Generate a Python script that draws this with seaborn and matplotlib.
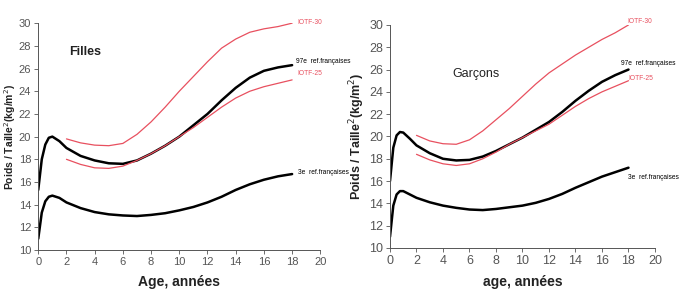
import matplotlib
matplotlib.use("Agg")
import matplotlib.pyplot as plt
import seaborn as sns
import pandas as pd

# ages for the reference curves (0-18) and the IOTF curves (2-18)
age_ref = [0, 0.25, 0.5, 0.75, 1, 1.5, 2, 3, 4, 5, 6, 7, 8, 9, 10, 11, 12, 13, 14, 15, 16, 17, 18]
age_iotf = [2, 3, 4, 5, 6, 7, 8, 9, 10, 11, 12, 13, 14, 15, 16, 17, 18]

# Filles
f_p97 = [15.3, 18.0, 19.3, 19.9, 20.0, 19.6, 19.0, 18.3, 17.9, 17.65, 17.6, 17.9, 18.5, 19.2,
         20.0, 21.0, 22.0, 23.2, 24.3, 25.2, 25.8, 26.1, 26.3]
f_p3 = [11.0, 13.3, 14.3, 14.7, 14.8, 14.6, 14.2, 13.7, 13.35, 13.15, 13.05, 13.0, 13.1, 13.25,
        13.5, 13.8, 14.2, 14.7, 15.3, 15.8, 16.2, 16.5, 16.7]
f_iotf30 = [19.8, 19.45, 19.25, 19.2, 19.4, 20.2, 21.3, 22.6, 24.0, 25.3, 26.6, 27.8, 28.6,
            29.2, 29.5, 29.7, 30.0]
f_iotf25 = [18.0, 17.55, 17.25, 17.2, 17.4, 17.9, 18.5, 19.2, 20.0, 20.8, 21.7, 22.6, 23.4,
            24.0, 24.4, 24.7, 25.0]

# Garçons
g_p97 = [16.0, 19.0, 20.1, 20.4, 20.35, 19.8, 19.2, 18.5, 18.0, 17.85, 17.9, 18.2, 18.7, 19.3,
         19.9, 20.6, 21.3, 22.2, 23.2, 24.1, 24.9, 25.5, 26.0]
g_p3 = [11.0, 13.8, 14.8, 15.1, 15.1, 14.8, 14.5, 14.1, 13.8, 13.6, 13.45, 13.4, 13.5, 13.65,
        13.8, 14.05, 14.4, 14.85, 15.4, 15.9, 16.4, 16.8, 17.2]
g_iotf30 = [20.1, 19.6, 19.35, 19.3, 19.7, 20.5, 21.5, 22.5, 23.6, 24.7, 25.7, 26.5, 27.3,
            28.0, 28.7, 29.3, 30.0]
g_iotf25 = [18.4, 17.9, 17.55, 17.4, 17.55, 18.0, 18.6, 19.3, 19.9, 20.5, 21.1, 21.9, 22.7,
            23.4, 24.0, 24.5, 25.0]

x_ticks = list(range(0, 21, 2))
y_ticks = list(range(10, 31, 2))

RED = '#e8505f'
GRAY = '#555555'

sns.set_style('ticks')
plt.rcParams['font.family'] = ['Liberation Sans', 'DejaVu Sans']

fig = plt.figure(figsize=(6.83, 2.97), dpi=100)
ax_f = fig.add_axes([0.056, 0.158, 0.413, 0.764])
ax_g = fig.add_axes([0.571, 0.165, 0.388, 0.751])


def draw_panel(ax, p97, p3, iotf30, iotf25, title, title_xy, title_bold, xlabel,
               ylabel_x, ylabel_size, tick_size, labels):
    sns.lineplot(x=age_ref, y=p97, ax=ax, color='black', lw=1.8)
    sns.lineplot(x=age_ref, y=p3, ax=ax, color='black', lw=1.8)
    sns.lineplot(x=age_iotf, y=iotf30, ax=ax, color=RED, lw=0.9)
    sns.lineplot(x=age_iotf, y=iotf25, ax=ax, color=RED, lw=0.9)

    ax.set_xlim(0, 20)
    ax.set_ylim(10, 30)
    ax.set_xticks(x_ticks)
    ax.set_yticks(y_ticks)
    ax.tick_params(labelsize=tick_size, colors=GRAY, length=3, width=0.6, pad=2)
    for side in ['left', 'bottom']:
        ax.spines[side].set_color(GRAY)
        ax.spines[side].set_linewidth(0.7)
    sns.despine(ax=ax)

    ax.set_xlabel(xlabel, fontsize=10, fontweight='bold', color='#222222', labelpad=6)
    ax.set_ylabel('Poids / Taille$^2$(kg/m$^2$)', fontsize=ylabel_size, fontweight='bold',
                  color='#222222')
    ax.yaxis.set_label_coords(ylabel_x, 0.5)
    ax.text(title_xy[0], title_xy[1], title, fontsize=9,
            fontweight='bold' if title_bold else 'normal', color='#222222')

    for txt, (tx, ty), col in labels:
        ax.text(tx, ty, txt, fontsize=4.8, color=col, va='center', clip_on=False)


draw_panel(ax_f, f_p97, f_p3, f_iotf30, f_iotf25, 'Filles', (2.2, 27.2), True,
           'Age, années', -0.073, 7.5, 8,
           [('IOTF-30', (18.4, 30.1), RED),
            ('97e  ref.françaises', (18.3, 26.6), 'black'),
            ('IOTF-25', (18.4, 25.6), RED),
            ('3e  ref.françaises', (18.4, 16.8), 'black')])

draw_panel(ax_g, g_p97, g_p3, g_iotf30, g_iotf25, 'Garçons', (4.7, 25.3), False,
           'age, années', -0.085, 9, 9,
           [('IOTF-30', (17.9, 30.3), RED),
            ('97e  ref.françaises', (17.4, 26.5), 'black'),
            ('IOTF-25', (18.0, 25.2), RED),
            ('3e  ref.françaises', (18.0, 16.3), 'black')])

fig.savefig('out.png', dpi=100)
